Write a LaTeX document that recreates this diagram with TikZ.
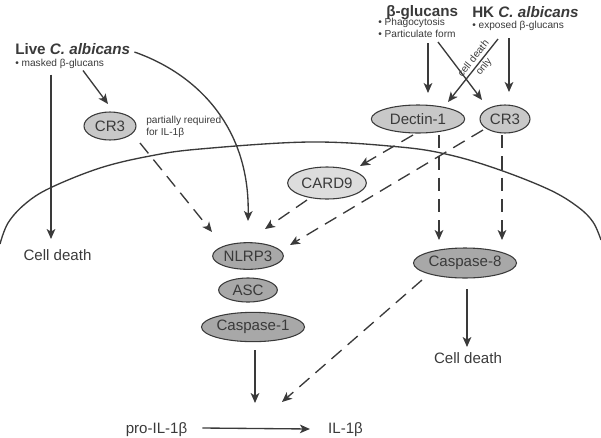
\documentclass[tikz,border=0pt]{standalone}
\usepackage{fontspec}
\setmainfont{Liberation Sans}
\usetikzlibrary{arrows.meta,shapes.geometric,calc}
\definecolor{txt}{HTML}{3A3A3A}
\definecolor{ln}{HTML}{3A3A3A}
\definecolor{lightF}{HTML}{C8C8C8}
\definecolor{paleF}{HTML}{DDDDDD}
\definecolor{darkF}{HTML}{A8A8A8}
\begin{document}
\begin{tikzpicture}[x=0.75pt,y=-0.75pt,
  every node/.style={text=txt},
  big/.style={font=\fontsize{11.3}{13}\selectfont, inner sep=0pt, anchor=base},
  hdr/.style={font=\fontsize{11.4}{13}\selectfont\bfseries, inner sep=0pt, anchor=base west},
  sm/.style={font=\fontsize{7.6}{9}\selectfont, inner sep=0pt, anchor=base west},
  prot/.style={ellipse, draw=ln, line width=0.8pt, inner sep=0pt, font=\fontsize{11.3}{13}\selectfont},
  arr/.style={draw=ln, line width=1pt, -{Stealth[length=7.5pt,width=6.5pt,inset=2pt]}},
  dsh/.style={arr, dash pattern=on 10pt off 6pt},
  memb/.style={draw=ln, line width=1pt},
]
\useasboundingbox (0,0) rectangle (601,437);

% membrane
\draw[memb] plot[smooth, tension=0.6] coordinates {(0,244) (8,223) (25,204) (50,188) (100,168) (150,156) (200,149) (310,142) (400,147) (450,155) (500,170) (550,190) (578,207) (593,222) (601,240)};

% texts
\node[hdr] (live) at (15,54) {Live \textit{C. albicans}};
\node[sm] (masked) at (15,66.5) {• masked β-glucans};
\node[hdr] (bg) at (386,16) {β-glucans};
\node[sm] (phago) at (378,25.5) {• Phagocytosis};
\node[sm] (pf) at (378,37) {• Particulate form};
\node[hdr] (hk) at (472,17.5) {HK \textit{C. albicans}};
\node[sm] (exp) at (472,28.5) {• exposed β-glucans};
\node[sm, align=left, anchor=west] (preq) at (146,126.5) {partially required\\for IL-1β};
\node[big] (cdl) at (57.5,260) {Cell death};
\node[big] (cdr) at (468,363) {Cell death};
\node[big] (pro) at (156.5,433) {pro-IL-1β};
\node[big] (il) at (345.5,433) {IL-1β};

% proteins
\node[prot, fill=lightF, minimum width=39pt, minimum height=21pt] (cr3l) at (110,126) {CR3};
\node[prot, fill=lightF, minimum width=70pt, minimum height=21pt] (dectin) at (418,119) {Dectin-1};
\node[prot, fill=lightF, minimum width=37.5pt, minimum height=21pt] (cr3r) at (505,119) {CR3};
\node[prot, fill=paleF, minimum width=59pt, minimum height=24pt] (card9) at (327,183) {CARD9};
\node[prot, fill=darkF, minimum width=53pt, minimum height=20pt] (nlrp3) at (248,256) {NLRP3};
\node[prot, fill=darkF, minimum width=44pt, minimum height=18pt] (asc) at (248,290) {ASC};
\node[prot, fill=darkF, minimum width=75pt, minimum height=22pt] (casp1) at (253,327) {Caspase-1};
\node[prot, fill=darkF, minimum width=75pt, minimum height=22.5pt] (casp8) at (465,263) {Caspase-8};

\coordinate (conv1) at (255,403);
\coordinate (conv2) at (282,402);

% left side
\draw[arr] ($(masked.base west)+(36,8)$) -- ($(cdl.base)+(-6.5,-21)$);
\draw[arr] ($(masked.base west)+(68,4)$) -- ($(cr3l)+(-2,-22)$);
\draw[arr] ($(live.base east)+(4,-2)$) .. controls (200,75) and (250,130) .. ($(nlrp3)+(0,-35)$);
\draw[dsh] ($(cr3l)+(30,17)$) -- ($(nlrp3)+(-36,-24)$);

% top right
\draw[arr] ($(pf.base west)+(50,6)$) -- ($(dectin)+(10,-26)$);
\draw[arr] ($(pf.base west)+(60,5)$) -- ($(cr3r)+(-23,-19)$);
\draw[arr] ($(exp.base west)+(26,10.5)$) -- node[pos=0.38, sloped, align=center, inner sep=0pt, font=\fontsize{7.6}{10}\selectfont] (cdo) {cell death\\only} ($(dectin)+(30,-17)$);
\draw[arr] ($(exp.base west)+(37,9.5)$) -- ($(cr3r)+(4,-27)$);

% dashed signalling
\draw[dsh] ($(dectin)+(-5,16)$) -- ($(card9)+(33,-17)$);
\draw[dsh] ($(card9)+(-20,17)$) -- ($(nlrp3)+(17,-27)$);
\draw[dsh] ($(cr3r)+(-22,11)$) -- ($(nlrp3)+(42,-11)$);
\draw[dsh] ($(dectin)+(21,16)$) -- ($(casp8)+(-26,-23)$);
\draw[dsh] ($(cr3r)+(-3,16)$) -- ($(casp8)+(37,-23)$);

% bottom
\draw[arr] ($(casp8)+(2,26)$) -- ($(cdr.base)+(-1,-16)$);
\draw[arr] ($(casp1)+(2,23)$) -- (conv1);
\draw[dsh] ($(casp8)+(-43,17)$) -- (conv2);
\draw[arr] ($(pro.base east)+(15,-5)$) -- ($(il.base west)+(-18,-4)$);
\end{tikzpicture}
\end{document}
